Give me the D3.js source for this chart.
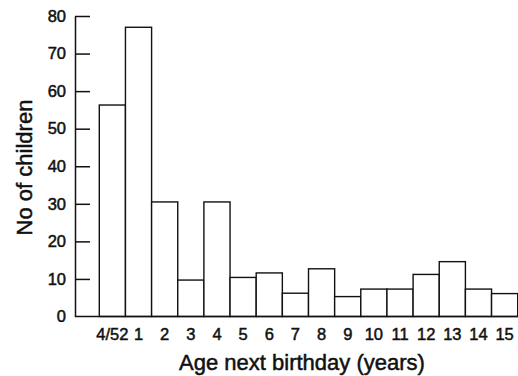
<!DOCTYPE html>
<html>
<head>
<meta charset="utf-8">
<script src="https://cdn.jsdelivr.net/npm/d3@7"></script>
<style>
  body { margin: 0; background: #fff; }
  text { font-family: "Liberation Sans", Arial, sans-serif; fill: #111; stroke: #111; stroke-width: 0.5px; }
</style>
</head>
<body>
<div id="chart"></div>
<script>
// age next birthday categories and counts
var ages = ["4/52", "1", "2", "3", "4", "5", "6", "7", "8", "9", "10", "11", "12", "13", "14", "15"];
var counts = [56.3, 77, 30.5, 9.7, 30.5, 10.4, 11.6, 6.2, 12.7, 5.3, 7.3, 7.3, 11.2, 14.6, 7.3, 6.1];
var yTicks = [0, 10, 20, 30, 40, 50, 60, 70, 80];

var width = 518,
    height = 376;

var svg = d3.select("#chart").append("svg")
    .attr("width", width)
    .attr("height", height);

var axisX = 75;

var x = d3.scaleBand().domain(ages).range([99.3, 517.7]).paddingInner(0).paddingOuter(0),
    y = d3.scaleLinear().domain([0, 80]).range([316.5, 16]);

// bars
svg.append("g").selectAll("rect")
    .data(counts)
    .enter().append("rect")
    .attr("x", function (d, i) { return x(ages[i]); })
    .attr("y", function (d) { return y(d); })
    .attr("width", x.bandwidth())
    .attr("height", function (d) { return y(0) - y(d); })
    .attr("fill", "#fff")
    .attr("stroke", "#111")
    .attr("stroke-width", 1.4);

// baseline
svg.append("line")
    .attr("x1", axisX).attr("x2", width)
    .attr("y1", y(0)).attr("y2", y(0))
    .attr("stroke", "#111")
    .attr("stroke-width", 1.6);

// y axis, ticks pointing inward
var yAxis = svg.append("g")
    .attr("transform", "translate(" + axisX + ",0)")
    .call(d3.axisLeft(y).tickValues(yTicks).tickSizeInner(-15).tickSizeOuter(0).tickPadding(9));

yAxis.select(".domain").attr("stroke", "#111").attr("stroke-width", 1.5);
yAxis.selectAll(".tick line").attr("stroke", "#111").attr("stroke-width", 1.5);
yAxis.selectAll(".tick text")
    .attr("font-size", "16.5px")
    .attr("font-family", "Liberation Sans, Arial, sans-serif")
    .attr("fill", "#111");
yAxis.selectAll(".tick").filter(function (d) { return d === 0; }).select("line").remove();

// x labels
svg.append("g").selectAll("text")
    .data(ages)
    .enter().append("text")
    .attr("x", function (d) { return x(d) + x.bandwidth() / 2; })
    .attr("y", 339.5)
    .attr("text-anchor", "middle")
    .attr("font-size", "16.5px")
    .text(function (d) { return d; });

// axis titles
svg.append("text")
    .attr("x", 302)
    .attr("y", 370)
    .attr("text-anchor", "middle")
    .attr("font-size", "22px")
    .text("Age next birthday (years)");

svg.append("text")
    .attr("transform", "translate(32,167.5)rotate(-90)")
    .attr("text-anchor", "middle")
    .attr("font-size", "22px")
    .text("No of children");
</script>
</body>
</html>
